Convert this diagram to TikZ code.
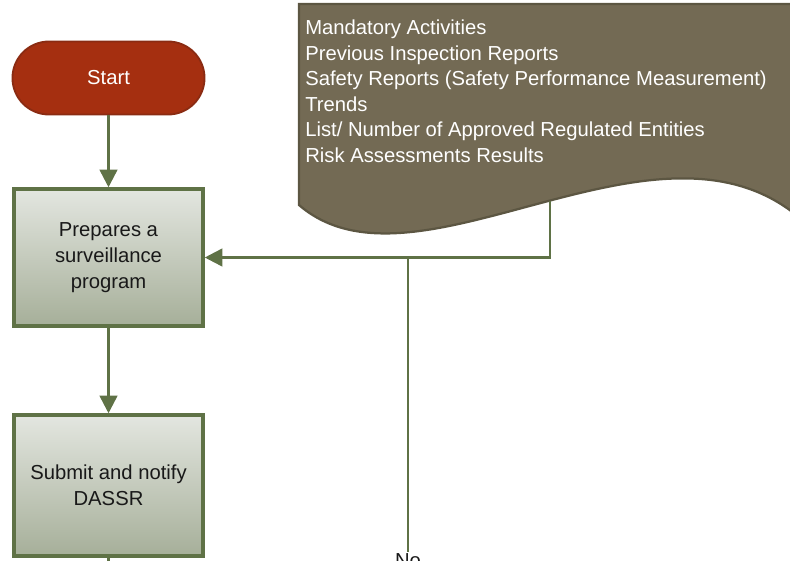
\documentclass[tikz,border=0pt]{standalone}
\usepackage{fontspec}
\setmainfont{Liberation Sans}
\usetikzlibrary{positioning,arrows.meta}
\tikzset{>={Triangle[length=12.5pt,width=12.5pt]}}

\definecolor{startred}{HTML}{A52F10}
\definecolor{startrim}{HTML}{8A2B12}
\definecolor{linegreen}{HTML}{5F7246}
\definecolor{boxtop}{HTML}{E3E6E0}
\definecolor{boxbottom}{HTML}{A6AF99}
\definecolor{docfill}{HTML}{736A54}
\definecolor{docrim}{HTML}{5C5642}

\begin{document}
\begin{tikzpicture}[x=0.025cm,y=-0.025cm,
  every node/.style={font=\fontsize{14.4}{18.5}\selectfont},
  flow/.style={draw=linegreen,line width=1.8pt},
  terminal/.style={draw=startrim,fill=startred,line width=1.3pt,text=white,
    rounded corners=0.91cm,minimum width=4.8cm,minimum height=1.825cm},
  stepbox/.style={draw=linegreen,line width=2.6pt,top color=boxtop,
    bottom color=boxbottom,minimum width=4.72cm,align=center,text=black!90}]
\useasboundingbox (0,0) rectangle (790,560);
\clip (0,0) rectangle (790,560);

% Input document
\draw[fill=docfill,draw=docrim,line width=1.6pt]
  (299,4) -- (795,4) -- (795,214) .. controls (650,100) and (415,305) .. (299,205) -- cycle;
\node[anchor=north west,inner sep=0pt,align=left,text=white,
  font=\fontsize{14.4}{18.1}\selectfont] (inputs) at (305,20)
  {Mandatory Activities\\
   Previous Inspection Reports\\
   Safety Reports (Safety Performance Measurement)\\
   Trends\\
   List/ Number of Approved Regulated Entities\\
   Risk Assessments Results};

% Coordinates of connectors
\coordinate (docout) at (550,201);
\coordinate (J) at (408,258);

% Flow steps
\node[terminal] (start) at (108.5,78) {Start};
\node[stepbox,minimum height=3.42cm] (prep) at (108.5,257.5)
  {Prepares a\\surveillance\\program};
\node[stepbox,minimum height=3.52cm] (submit) at (108.5,485.5)
  {Submit and notify\\DASSR};
\node[anchor=north,inner sep=1pt,text=black!90] (no) at (408,552) {No};
\coordinate (down) at (108.5,580);

% Connectors
\draw[flow,->] (start) -- (prep);
\draw[flow,->] (prep) -- (submit);
\draw[flow,->] (docout) |- (prep);
\draw[flow] (J) -- (no);
\draw[flow] (submit) -- (down);

\end{tikzpicture}
\end{document}
